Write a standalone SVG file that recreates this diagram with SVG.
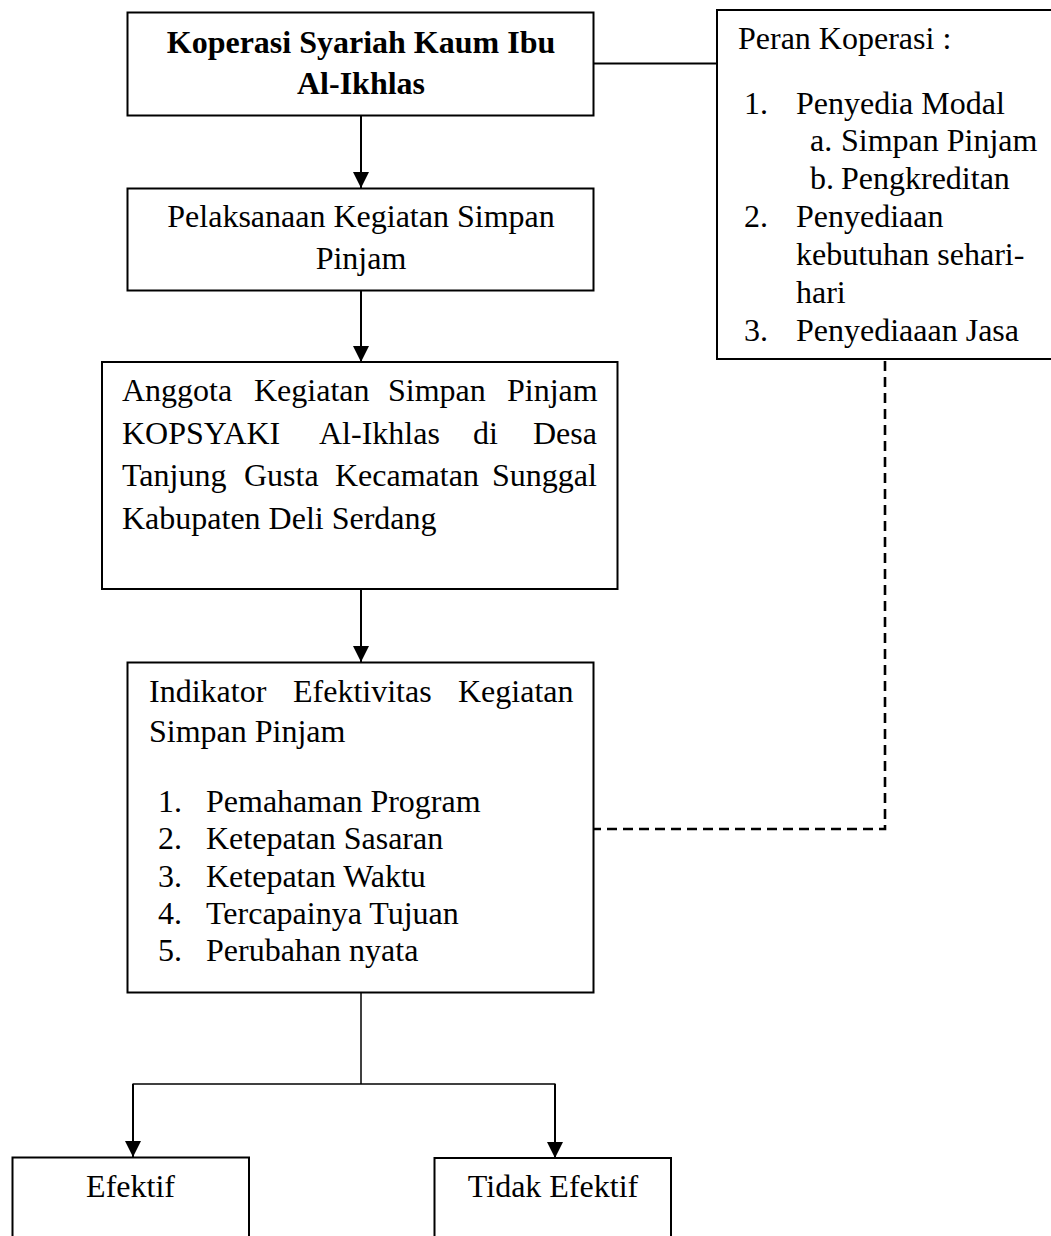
<svg xmlns="http://www.w3.org/2000/svg" width="1051" height="1236" viewBox="0 0 1051 1236">
<style>
.box{fill:#fff;stroke:#000;stroke-width:2}
.t{font-family:"Liberation Serif","Times New Roman",serif;font-size:32px;fill:#000}
.b{font-weight:bold}
.c{text-anchor:middle}
.ln{fill:none;stroke:#000;stroke-width:2}
.thin{fill:none;stroke:#000;stroke-width:1.5}
.dash{fill:none;stroke:#000;stroke-width:2.6;stroke-dasharray:10 6}
</style>
<defs>
<marker id="ah" viewBox="0 0 16 16" refX="16" refY="8" markerWidth="16" markerHeight="16" markerUnits="userSpaceOnUse" orient="auto">
<path d="M0,0 L16,8 L0,16 z" fill="#000"/>
</marker>
</defs>
<rect width="1051" height="1236" fill="#fff"/>
<g id="connectors">
<line class="ln" x1="593" y1="63.5" x2="717" y2="63.5"/>
<line class="ln" x1="361" y1="115" x2="361" y2="188" marker-end="url(#ah)"/>
<line class="ln" x1="361" y1="291" x2="361" y2="362" marker-end="url(#ah)"/>
<line class="ln" x1="361" y1="589" x2="361" y2="662" marker-end="url(#ah)"/>
<polyline class="dash" points="885,361 885,829 593,829"/>
<line class="thin" x1="361" y1="992" x2="361" y2="1084"/>
<line class="thin" x1="132.5" y1="1084" x2="555.5" y2="1084"/>
<line class="ln" x1="133" y1="1084" x2="133" y2="1157" marker-end="url(#ah)"/>
<line class="ln" x1="555" y1="1084" x2="555" y2="1158" marker-end="url(#ah)"/>
</g>
<g id="node-koperasi">
<rect class="box" x="127.5" y="12.5" width="466" height="103"/>
<text class="t b c" x="361" y="53">Koperasi Syariah Kaum Ibu</text>
<text class="t b c" x="361" y="94">Al-Ikhlas</text>
</g>
<g id="node-peran">
<rect class="box" x="717" y="10" width="345" height="349"/>
<text class="t" x="738" y="49">Peran Koperasi :</text>
<text class="t" x="744" y="114">1.</text><text class="t" x="796" y="114">Penyedia Modal</text>
<text class="t" x="810" y="151">a.</text><text class="t" x="841" y="151">Simpan Pinjam</text>
<text class="t" x="810" y="189">b.</text><text class="t" x="841" y="189">Pengkreditan</text>
<text class="t" x="744" y="227">2.</text><text class="t" x="796" y="227">Penyediaan</text>
<text class="t" x="796" y="265">kebutuhan sehari-</text>
<text class="t" x="796" y="303">hari</text>
<text class="t" x="744" y="341">3.</text><text class="t" x="796" y="341">Penyediaaan Jasa</text>
</g>
<g id="node-pelaksanaan">
<rect class="box" x="127.5" y="188.5" width="466" height="102"/>
<text class="t c" x="361" y="227">Pelaksanaan Kegiatan Simpan</text>
<text class="t c" x="361" y="269">Pinjam</text>
</g>
<g id="node-anggota">
<rect class="box" x="102" y="362" width="515.5" height="227"/>
<text class="t" y="401"><tspan x="122">Anggota</tspan><tspan x="254">Kegiatan</tspan><tspan x="388">Simpan</tspan><tspan x="507">Pinjam</tspan></text>
<text class="t" y="443.5"><tspan x="122">KOPSYAKI</tspan><tspan x="319">Al-Ikhlas</tspan><tspan x="473">di</tspan><tspan x="533">Desa</tspan></text>
<text class="t" y="486"><tspan x="122">Tanjung</tspan><tspan x="244">Gusta</tspan><tspan x="335">Kecamatan</tspan><tspan x="492">Sunggal</tspan></text>
<text class="t" x="122" y="528.5">Kabupaten Deli Serdang</text>
</g>
<g id="node-indikator">
<rect class="box" x="127.5" y="662.5" width="466" height="330"/>
<text class="t" y="702"><tspan x="149">Indikator</tspan><tspan x="293">Efektivitas</tspan><tspan x="458">Kegiatan</tspan></text>
<text class="t" x="149" y="742">Simpan Pinjam</text>
<text class="t" x="158" y="812">1.</text><text class="t" x="206" y="812">Pemahaman Program</text>
<text class="t" x="158" y="849">2.</text><text class="t" x="206" y="849">Ketepatan Sasaran</text>
<text class="t" x="158" y="886.5">3.</text><text class="t" x="206" y="886.5">Ketepatan Waktu</text>
<text class="t" x="158" y="923.5">4.</text><text class="t" x="206" y="923.5">Tercapainya Tujuan</text>
<text class="t" x="158" y="961">5.</text><text class="t" x="206" y="961">Perubahan nyata</text>
</g>
<g id="node-efektif">
<rect class="box" x="12.5" y="1157.5" width="236.5" height="100"/>
<text class="t c" x="130.5" y="1196.5">Efektif</text>
</g>
<g id="node-tidak-efektif">
<rect class="box" x="434.5" y="1158" width="236.5" height="100"/>
<text class="t c" x="553" y="1196.5">Tidak Efektif</text>
</g>
</svg>
